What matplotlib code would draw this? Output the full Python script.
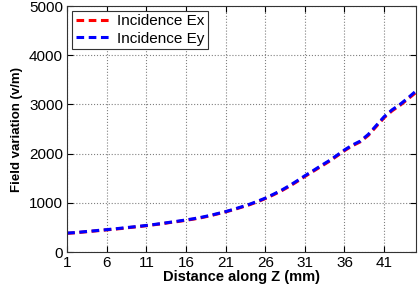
import numpy as np
import matplotlib
matplotlib.use('Agg')
import matplotlib.pyplot as plt

# distance along Z (mm)
z = list(range(1, 46))
ex = [380, 390, 405, 420, 435, 450, 465, 480, 500, 515,
      535, 555, 575, 600, 620, 645, 670, 700, 735, 775,
      815, 860, 910, 960, 1020, 1085, 1160, 1240, 1330, 1430,
      1535, 1635, 1735, 1835, 1945, 2060, 2160, 2240, 2370, 2550,
      2730, 2870, 2980, 3110, 3240]
ey = [385, 395, 410, 425, 440, 455, 470, 488, 505, 522,
      540, 560, 582, 605, 628, 652, 678, 708, 742, 782,
      822, 868, 918, 970, 1030, 1095, 1172, 1252, 1345, 1445,
      1550, 1650, 1752, 1850, 1960, 2075, 2175, 2255, 2390, 2570,
      2750, 2890, 3000, 3130, 3270]
xticks = [1, 6, 11, 16, 21, 26, 31, 36, 41]
yticks = [0, 1000, 2000, 3000, 4000, 5000]

plt.rcParams['font.family'] = ['Liberation Sans', 'DejaVu Sans']

fig = plt.figure(figsize=(4.2, 2.88), dpi=100)
ax = fig.add_axes([0.16, 0.125, 0.83, 0.854])

ax.plot(z, ex, color='red', linestyle='--', linewidth=2.2, dashes=(2.5, 1.5), label='Incidence Ex')
ax.plot(z, ey, color='blue', linestyle='--', linewidth=2.2, dashes=(2.5, 1.5), label='Incidence Ey')

ax.set_xlim(1, 45)
ax.set_ylim(0, 5000)
ax.set_xticks(xticks)
ax.set_yticks(yticks)
ax.tick_params(direction='in', labelsize=11, top=True, right=True, length=4, pad=3)
ax.grid(True, linestyle=':', color='gray', linewidth=0.8)
for s in ax.spines.values():
    s.set_color('#333333')

ax.set_xlabel('Distance along Z (mm)', fontsize=10.5, fontweight='bold', labelpad=0)
ax.set_ylabel('Field variation (v/m)', fontsize=9.5, fontweight='bold', labelpad=4)

leg = ax.legend(loc='upper left', fontsize=11, fancybox=False, framealpha=1,
                edgecolor='#333333', handlelength=2.3, borderaxespad=0.3,
                labelspacing=0.2, borderpad=0.25, handletextpad=0.4)
leg.get_frame().set_linewidth(0.8)

fig.savefig('out.png', dpi=100)
